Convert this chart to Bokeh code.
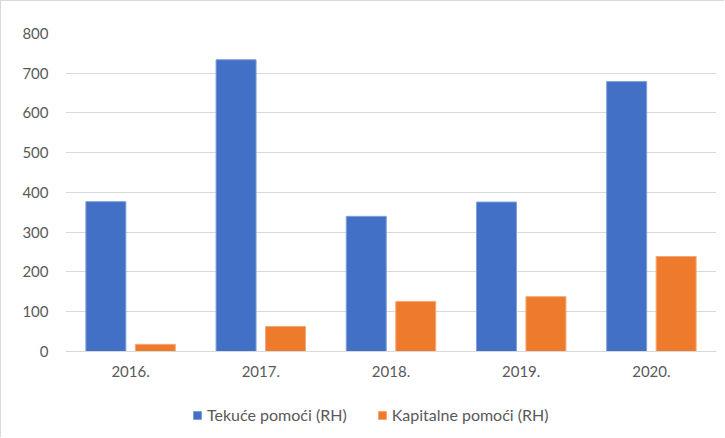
from bokeh.plotting import figure
from bokeh.models import FactorRange, Range1d, Legend, LegendItem, ColumnDataSource
from bokeh.transform import dodge
from bokeh.embed import file_html
from bokeh.resources import INLINE

years = ["2016.", "2017.", "2018.", "2019.", "2020."]
tekuce = [377, 734, 340, 376, 679]
kapitalne = [18, 63, 126, 138, 239]
y_ticks = [0, 100, 200, 300, 400, 500, 600, 700, 800]

src = ColumnDataSource(dict(years=years, tekuce=tekuce, kapitalne=kapitalne))

FONT = "Lato"
TXT = "#595959"

p = figure(
    frame_width=651, frame_height=404,
    x_range=FactorRange(*years, range_padding=0),
    y_range=Range1d(-216.4, 800),
    output_backend="svg", toolbar_location=None,
    min_border_left=64, min_border_right=8, min_border_top=32, min_border_bottom=0,
)
p.styles = {"border-top": "1px solid #d9d9d9", "border-left": "1px solid #d9d9d9"}
p.outline_line_color = None
p.background_fill_color = "white"
p.border_fill_color = "white"

r1 = p.vbar(x=dodge("years", -0.19, range=p.x_range), top="tekuce", bottom=0, width=0.307, source=src,
            fill_color="#4270c6", line_color="#7f9fd8", line_width=1)
r2 = p.vbar(x=dodge("years", 0.19, range=p.x_range), top="kapitalne", bottom=0, width=0.307, source=src,
            fill_color="#ee7b2c", line_color="#f4a878", line_width=1)

p.ygrid.grid_line_color = "#d9d9d9"
p.ygrid.grid_line_width = 1
p.xgrid.grid_line_color = None
p.yaxis.ticker = y_ticks
p.yaxis.axis_line_color = None
p.yaxis.major_tick_line_color = None
p.yaxis.minor_tick_line_color = None
p.yaxis.major_tick_out = 0
p.yaxis.major_label_standoff = 17
p.yaxis.major_label_text_font = FONT
p.yaxis.major_label_text_font_size = "15px"
p.yaxis.major_label_text_color = TXT

p.xaxis.fixed_location = 0
p.xaxis.axis_line_color = "#d9d9d9"
p.xaxis.axis_line_width = 1
p.xaxis.major_tick_line_color = None
p.xaxis.minor_tick_line_color = None
p.xaxis.major_tick_out = 0
p.xaxis.major_label_standoff = 15
p.xaxis.major_label_text_font = FONT
p.xaxis.major_label_text_font_size = "15px"
p.xaxis.major_label_text_color = TXT

legend = Legend(items=[LegendItem(label="Tekuće pomoći (RH)", renderers=[r1]),
                       LegendItem(label="Kapitalne pomoći (RH)", renderers=[r2])],
                orientation="horizontal", location=(127, 13),
                glyph_width=10, glyph_height=10, label_standoff=5, spacing=30,
                label_text_font=FONT, label_text_font_size="16px", label_text_color=TXT,
                border_line_color=None, background_fill_alpha=0, margin=0, padding=0)
p.add_layout(legend, "center")

open("out.html", "w").write(file_html(p, INLINE))
